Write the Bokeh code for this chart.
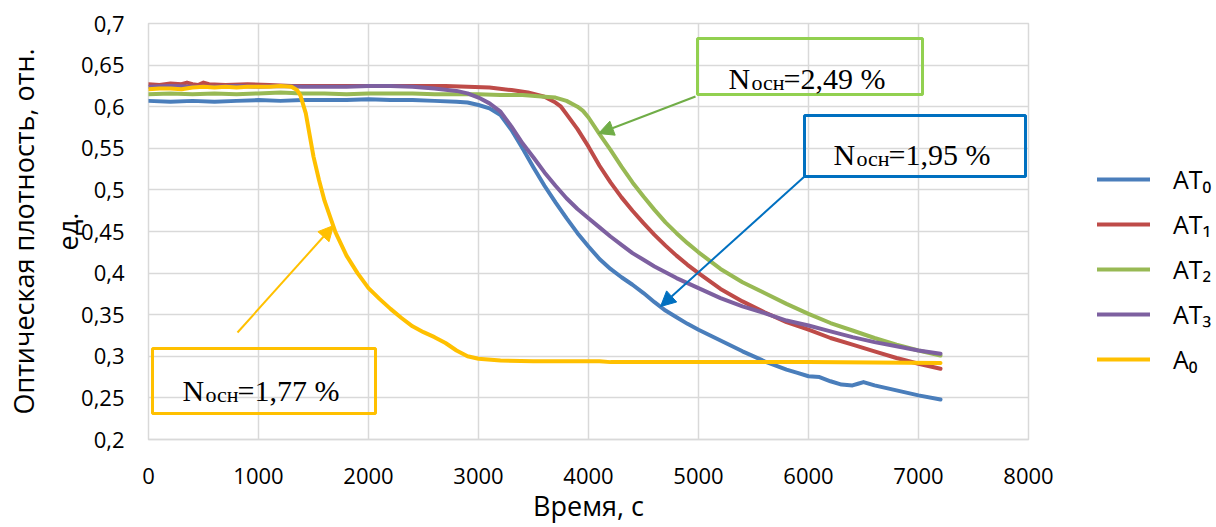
from bokeh.plotting import figure
from bokeh.models import (Range1d, Legend, LegendItem, BoxAnnotation, Label,
                          Arrow, NormalHead)
from bokeh.embed import file_html
from bokeh.resources import INLINE

# ---------------- data ----------------
x_ticks = [0, 1000, 2000, 3000, 4000, 5000, 6000, 7000, 8000]
y_ticks = [0.2, 0.25, 0.3, 0.35, 0.4, 0.45, 0.5, 0.55, 0.6, 0.65, 0.7]
y_tick_labels = ["0,2", "0,25", "0,3", "0,35", "0,4", "0,45", "0,5", "0,55", "0,6", "0,65", "0,7"]

series_labels = ["AT₀", "AT₁", "AT₂", "AT₃", "A₀"]
series_colors = ["#4A7EBB", "#BE4B48", "#98B954", "#7D60A0", "#FFC000"]

t_AT0 = [0, 200, 400, 600, 800, 1000, 1200, 1400, 1600, 1800, 2000, 2200, 2400, 2600, 2800, 2900,
         3000, 3100, 3200, 3300, 3400, 3500, 3600, 3700, 3800, 3900, 4000, 4100, 4200, 4300, 4400,
         4500, 4600, 4700, 4800, 4900, 5000, 5200, 5400, 5600, 5800, 5900, 6000, 6100, 6200, 6300,
         6400, 6450, 6500, 6600, 6800, 7000, 7200]
v_AT0 = [0.607, 0.606, 0.607, 0.606, 0.607, 0.608, 0.607, 0.608, 0.608, 0.608, 0.609, 0.608, 0.608,
         0.607, 0.606, 0.605, 0.602, 0.598, 0.590, 0.572, 0.550, 0.527, 0.505, 0.485, 0.466, 0.448,
         0.432, 0.417, 0.405, 0.395, 0.386, 0.376, 0.365, 0.355, 0.347, 0.339, 0.332, 0.319, 0.306,
         0.294, 0.284, 0.280, 0.276, 0.275, 0.270, 0.266, 0.265, 0.267, 0.269, 0.265, 0.259, 0.253,
         0.248]

t_AT1 = [0, 100, 200, 300, 350, 400, 450, 500, 550, 700, 900, 1100, 1300, 1500, 1700, 1900, 2100,
         2300, 2500, 2700, 2900, 3100, 3300, 3450, 3600, 3700, 3750, 3800, 3900, 4000, 4100, 4200,
         4300, 4400, 4500, 4600, 4700, 4800, 4900, 5000, 5200, 5400, 5600, 5800, 6000, 6200, 6400,
         6600, 6800, 7000, 7200]
v_AT1 = [0.627, 0.626, 0.628, 0.627, 0.629, 0.627, 0.626, 0.629, 0.627, 0.626, 0.627, 0.626, 0.625,
         0.625, 0.625, 0.625, 0.625, 0.625, 0.625, 0.625, 0.624, 0.623, 0.620, 0.617, 0.612, 0.605,
         0.600, 0.591, 0.573, 0.552, 0.529, 0.509, 0.491, 0.475, 0.460, 0.446, 0.433, 0.421, 0.410,
         0.400, 0.381, 0.366, 0.353, 0.341, 0.332, 0.322, 0.314, 0.306, 0.298, 0.291, 0.285]

t_AT2 = [0, 200, 400, 600, 800, 1000, 1200, 1400, 1600, 1800, 2000, 2200, 2400, 2600, 2800, 3000,
         3200, 3400, 3600, 3700, 3800, 3900, 3950, 4000, 4100, 4200, 4300, 4400, 4500, 4600, 4700,
         4800, 4900, 5000, 5200, 5400, 5600, 5800, 6000, 6200, 6400, 6600, 6800, 7000, 7200]
v_AT2 = [0.615, 0.616, 0.615, 0.616, 0.615, 0.616, 0.617, 0.616, 0.616, 0.615, 0.616, 0.616, 0.616,
         0.615, 0.615, 0.615, 0.614, 0.614, 0.612, 0.611, 0.607, 0.600, 0.595, 0.587, 0.567, 0.548,
         0.528, 0.509, 0.492, 0.476, 0.461, 0.448, 0.436, 0.425, 0.405, 0.389, 0.376, 0.363, 0.351,
         0.340, 0.331, 0.322, 0.314, 0.307, 0.301]

t_AT3 = [0, 200, 400, 600, 800, 1000, 1200, 1400, 1600, 1800, 2000, 2200, 2400, 2600, 2800, 2900,
         3000, 3100, 3200, 3300, 3400, 3500, 3600, 3700, 3800, 3900, 4000, 4100, 4200, 4300, 4400,
         4500, 4600, 4700, 4800, 4900, 5000, 5200, 5400, 5600, 5800, 6000, 6200, 6400, 6600, 6800,
         7000, 7200]
v_AT3 = [0.624, 0.625, 0.624, 0.624, 0.625, 0.624, 0.625, 0.624, 0.624, 0.624, 0.625, 0.625, 0.624,
         0.622, 0.619, 0.616, 0.611, 0.604, 0.594, 0.576, 0.556, 0.539, 0.521, 0.505, 0.490, 0.477,
         0.466, 0.455, 0.444, 0.434, 0.424, 0.416, 0.408, 0.401, 0.394, 0.388, 0.382, 0.370, 0.360,
         0.352, 0.343, 0.337, 0.330, 0.323, 0.317, 0.312, 0.307, 0.303]

t_A0 = [0, 100, 200, 300, 400, 500, 600, 700, 800, 900, 1000, 1100, 1200, 1300, 1350, 1380, 1430,
        1500, 1550, 1600, 1700, 1800, 1900, 2000, 2100, 2200, 2300, 2400, 2500, 2600, 2700, 2800,
        2900, 3000, 3200, 3500, 4100, 4200, 5000, 6000, 7200]
v_A0 = [0.621, 0.622, 0.622, 0.621, 0.623, 0.624, 0.623, 0.624, 0.623, 0.624, 0.624, 0.624, 0.625,
        0.624, 0.620, 0.614, 0.592, 0.540, 0.512, 0.487, 0.449, 0.421, 0.400, 0.382, 0.369, 0.357,
        0.346, 0.336, 0.329, 0.323, 0.316, 0.307, 0.300, 0.297, 0.295, 0.294, 0.294, 0.293, 0.293,
        0.293, 0.292]

notes = ["2,49 %", "1,95 %", "1,77 %"]
note_colors = ["#92D050", "#0070C0", "#FFC000"]
arrow_colors = ["#70AD47", "#0070C0", "#FFC000"]

x_title = "Время, с"
y_title = "Оптическая плотность, отн.\nед."

# ---------------- layout helpers (picture pixel -> data) ----------------
FRAME_L, FRAME_T, FRAME_W, FRAME_H = 148, 23, 880, 416
X0, X1, Y0, Y1 = 0, 8000, 0.2, 0.7


def dx(px):
    return X0 + (px - FRAME_L) * (X1 - X0) / FRAME_W


def dy(py):
    return Y1 - (py - FRAME_T) * (Y1 - Y0) / FRAME_H


FONT = "Open Sans"
SERIF = "Liberation Serif"

p = figure(frame_width=FRAME_W, frame_height=FRAME_H,
           x_range=Range1d(X0, X1), y_range=Range1d(Y0, Y1),
           output_backend="svg", toolbar_location=None,
           min_border_left=FRAME_L, min_border_right=1216 - FRAME_L - FRAME_W,
           min_border_top=FRAME_T, min_border_bottom=527 - FRAME_T - FRAME_H,
           background_fill_color="white", border_fill_color="white")
p.outline_line_color = "#D9D9D9"
p.outline_line_width = 1.5

# grid
p.xgrid.ticker = x_ticks
p.ygrid.ticker = y_ticks
for g in (p.xgrid, p.ygrid):
    g.grid_line_color = "#D9D9D9"
    g.grid_line_width = 1.5

# axes
p.xaxis.ticker = x_ticks
p.yaxis.ticker = y_ticks
p.yaxis.major_label_overrides = {v: s for v, s in zip(y_ticks, y_tick_labels)}
for ax in (p.xaxis, p.yaxis):
    ax.major_tick_line_color = None
    ax.minor_tick_line_color = None
    ax.major_tick_out = 0
    ax.major_tick_in = 0
    ax.major_label_text_font = FONT
    ax.major_label_text_font_size = "22px"
    ax.major_label_text_color = "#000000"
    ax.axis_label_text_font = FONT
    ax.axis_label_text_font_style = "normal"
    ax.axis_label_text_color = "#000000"
p.xaxis.axis_line_color = "#D9D9D9"
p.xaxis.axis_line_width = 1.5
p.yaxis.axis_line_color = None
p.xaxis.major_label_standoff = 28
p.yaxis.major_label_standoff = 24
p.xaxis.axis_label = x_title
p.xaxis.axis_label_text_font_size = "27px"
p.xaxis.axis_label_standoff = 0
p.yaxis.axis_label = y_title
p.yaxis.axis_label_text_font_size = "27px"
p.yaxis.axis_label_standoff = -8

# series
all_t = [t_AT0, t_AT1, t_AT2, t_AT3, t_A0]
all_v = [v_AT0, v_AT1, v_AT2, v_AT3, v_A0]
renderers = []
for t, v, c in zip(all_t, all_v, series_colors):
    r = p.line(t, v, line_color=c, line_width=4, line_join="round", line_cap="round")
    renderers.append(r)

legend = Legend(items=[LegendItem(label=n, renderers=[r]) for n, r in zip(series_labels, renderers)],
                location=(69, 63), glyph_width=53, glyph_height=34, label_height=34,
                spacing=11, label_standoff=23, padding=0, margin=0,
                border_line_color=None, background_fill_alpha=0,
                label_text_font=FONT, label_text_font_size="25px", label_text_color="#000000")
p.add_layout(legend, "right")

# annotation boxes  (left, right, top, bottom) in picture px
boxes = [(697, 922, 38, 94), (804, 1025, 115, 176), (152, 375, 348, 413)]
text_pos = [(728, 78), (833, 154), (182, 390)]
arrows = [((695, 96), (598, 133)), ((804, 176), (660, 306)), ((237, 332), (333, 225))]

for (l, r_, t_, b_), (tx, ty), ((ax0, ay0), (ax1, ay1)), note, bc, ac in zip(
        boxes, text_pos, arrows, notes, note_colors, arrow_colors):
    p.add_layout(BoxAnnotation(left=dx(l), right=dx(r_), top=dy(t_), bottom=dy(b_),
                               fill_alpha=0, line_color=bc, line_alpha=1, line_width=3))
    p.add_layout(Label(x=dx(tx), y=dy(ty), text="N", text_font=SERIF, text_font_size="30px",
                       text_baseline="alphabetic", text_color="#000000"))
    p.add_layout(Label(x=dx(tx), y=dy(ty), x_offset=23, y_offset=-4, text="осн", text_font=SERIF,
                       text_font_size="22px", text_baseline="alphabetic", text_color="#000000"))
    p.add_layout(Label(x=dx(tx), y=dy(ty), x_offset=55, text="=" + note, text_font=SERIF,
                       text_font_size="30px", text_baseline="alphabetic", text_color="#000000"))
    p.add_layout(Arrow(end=NormalHead(size=15, fill_color=ac, line_color=ac, line_width=1),
                       x_start=dx(ax0), y_start=dy(ay0), x_end=dx(ax1), y_end=dy(ay1),
                       line_color=ac, line_width=2))

open("out.html", "w").write(file_html(p, INLINE))
